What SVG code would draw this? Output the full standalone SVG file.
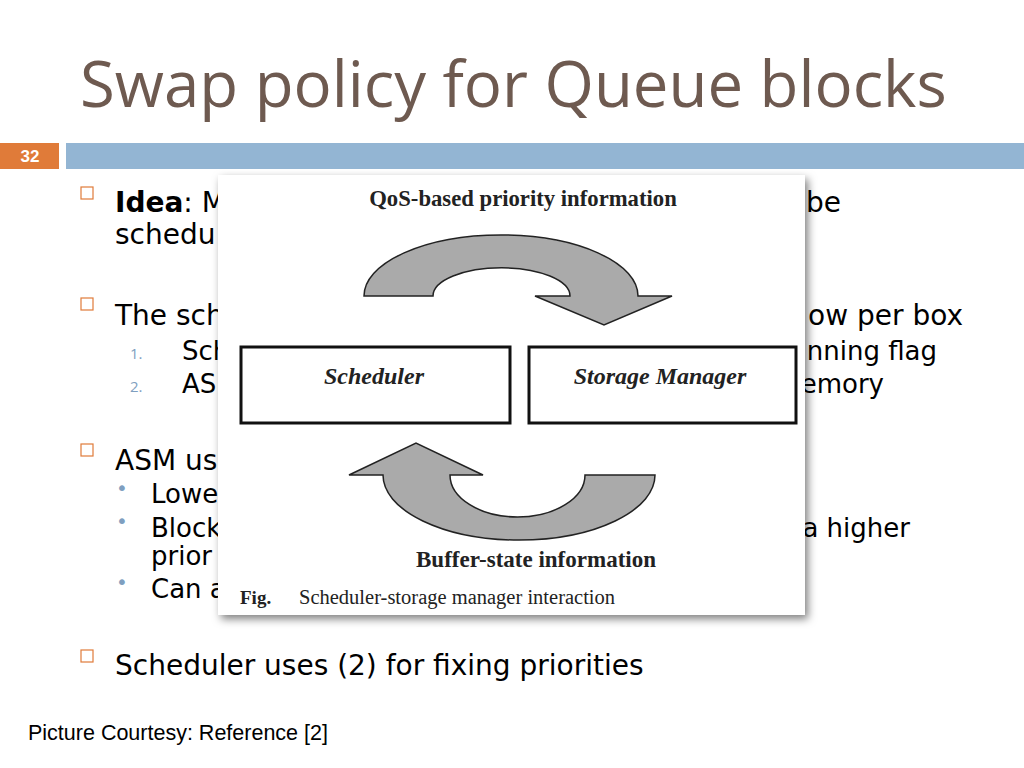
<svg xmlns="http://www.w3.org/2000/svg" width="1024" height="768" viewBox="0 0 1024 768">
<style>
.b{font-family:"DejaVu Sans","Open Sans",sans-serif;font-size:28px;fill:#000}
.s{font-family:"DejaVu Sans","Open Sans",sans-serif;font-size:26px;fill:#000}
.n{font-family:"Open Sans","Noto Sans",sans-serif;font-size:15px;fill:#7f9fc0}
.d{font-family:"DejaVu Sans",sans-serif;font-size:20px;fill:#7f9fc0}
.sq{fill:none;stroke:#e07b39;stroke-width:1.2}
.f{font-family:"Liberation Serif",serif;fill:#222}
.arr{fill:#aaa;stroke:#222;stroke-width:1.5}
.bx{fill:#fff;stroke:#111;stroke-width:3}
</style>
<defs><filter id="sh" x="-5%" y="-5%" width="115%" height="115%"><feDropShadow dx="3" dy="4" stdDeviation="4" flood-opacity="0.5"/></filter></defs>
<rect width="1024" height="768" fill="#fff"/>
<text x="80" y="107" font-family="Open Sans,Noto Sans,sans-serif" font-size="63.5" fill="#6e5a50">Swap policy for Queue blocks</text>
<rect x="0" y="143" width="59" height="26" fill="#e07b39"/>
<text x="30" y="162" text-anchor="middle" font-family="Liberation Sans,sans-serif" font-weight="bold" font-size="17" fill="#fff">32</text>
<rect x="66" y="143" width="958" height="26" fill="#93b5d3"/>
<g id="text">
<rect class="sq" x="81" y="187" width="12" height="12"/>
<text class="b" x="115" y="212"><tspan font-weight="bold">Idea</tspan>: M</text>
<text class="b" x="806" y="212">be</text>
<text class="b" x="115" y="244">schedu</text>
<rect class="sq" x="81" y="298" width="12" height="12"/>
<text class="b" x="115" y="325">The sch</text>
<text class="b" x="963" y="325" text-anchor="end">ow per box</text>
<text class="n" x="130" y="359">1.</text>
<text class="s" x="182" y="360">Sch</text>
<text class="s" x="937" y="360" text-anchor="end">nning flag</text>
<text class="n" x="130" y="392">2.</text>
<text class="s" x="182" y="393">AS</text>
<text class="s" x="884" y="393" text-anchor="end">emory</text>
<rect class="sq" x="81" y="444" width="12" height="12"/>
<text class="b" x="115" y="470">ASM us</text>
<text class="d" x="116" y="495">•</text>
<text class="s" x="151" y="503">Lowe</text>
<text class="d" x="116" y="528">•</text>
<text class="s" x="151" y="537">Block</text>
<text class="s" x="910" y="537" text-anchor="end">a higher</text>
<text class="s" x="151" y="565">prior</text>
<text class="d" x="116" y="589">•</text>
<text class="s" x="151" y="598">Can a</text>
<rect class="sq" x="81" y="650" width="12" height="12"/>
<text class="b" x="115" y="675">Scheduler uses (2) for fixing priorities</text>
<text x="28" y="740" font-family="Liberation Sans,Arial,sans-serif" font-size="21.5" fill="#000">Picture Courtesy: Reference [2]</text>
</g>
<rect x="218" y="175" width="587" height="440" fill="#fff" filter="url(#sh)"/>
<g id="connectors">
<path class="arr" d="M364,296 A137,61 0 0 1 638,296 L672,296 L604,325 L535,296 L570,296 A68,28 0 0 0 433,296 Z"/>
<path class="arr" d="M655,475 A136,65 0 0 1 383,475 L349,475 L416,443 L483,475 L450,475 A67.5,42 0 0 0 585,475 Z"/>
</g>
<g id="scheduler"><rect class="bx" x="241" y="347" width="269" height="76"/>
<text class="f" x="374" y="384" text-anchor="middle" font-size="24" font-style="italic" font-weight="bold">Scheduler</text></g>
<g id="storage"><rect class="bx" x="529" y="347" width="267" height="76"/>
<text class="f" x="660" y="384" text-anchor="middle" font-size="24" font-style="italic" font-weight="bold">Storage Manager</text></g>
<text class="f" x="523" y="206" text-anchor="middle" font-size="22.7" font-weight="bold">QoS-based priority information</text>
<text class="f" x="536" y="567" text-anchor="middle" font-size="23" font-weight="bold">Buffer-state information</text>
<text class="f" x="240" y="604" font-size="19" font-weight="bold">Fig.</text>
<text class="f" x="299" y="604" font-size="20.5">Scheduler-storage manager interaction</text>
</svg>
